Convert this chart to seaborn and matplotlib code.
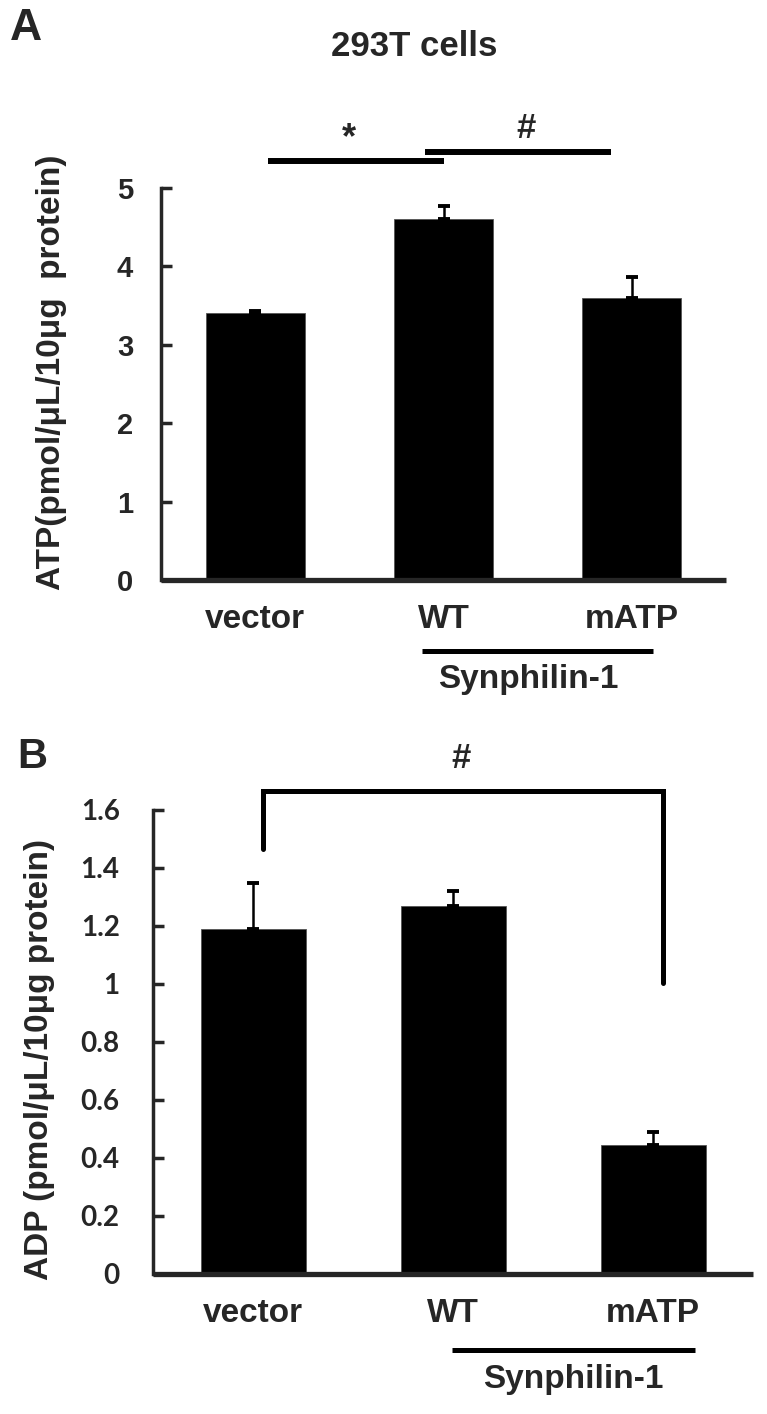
import numpy as np
import pandas as pd
import matplotlib
matplotlib.use("Agg")
import matplotlib.pyplot as plt
import seaborn as sns

# data
groups = ["vector", "WT", "mATP"]
atp_mean = [3.40, 4.61, 3.60]
atp_err = [0.03, 0.16, 0.26]
adp_mean = [1.19, 1.27, 0.445]
adp_err = [0.16, 0.05, 0.045]
atp_ticks = [0, 1, 2, 3, 4, 5]
adp_ticks = [0, 0.2, 0.4, 0.6, 0.8, 1.0, 1.2, 1.4, 1.6]
adp_ticklabels = ["0", "0.2", "0.4", "0.6", "0.8", "1", "1.2", "1.4", "1.6"]

sns.set_style("ticks")
plt.rcParams["font.family"] = ["Liberation Sans", "DejaVu Sans"]

W, H = 767, 1414
fig = plt.figure(figsize=(W / 100, H / 100), dpi=100)


def fig_box(left, top, right, bottom):
    return [left / W, 1 - bottom / H, (right - left) / W, (bottom - top) / H]


ax1 = fig.add_axes(fig_box(161, 188, 726, 580))
ax2 = fig.add_axes(fig_box(153, 810, 753, 1274))

df_a = pd.DataFrame({"group": groups, "value": atp_mean})
df_b = pd.DataFrame({"group": groups, "value": adp_mean})


def draw_panel(ax, df, errs, ticks, ticklabels, tick_font, tick_size, pad):
    sns.barplot(data=df, x="group", y="value", color="black", width=0.525,
                errorbar=None, ax=ax, edgecolor="#555555", linewidth=0.6)
    xs = np.arange(len(df))
    ax.errorbar(xs, df["value"], yerr=[np.zeros(len(errs)), errs], fmt="none",
                ecolor="black", elinewidth=1.8, capsize=4.5, capthick=2.8)
    ax.set_xlim(-0.5, 2.5)
    ax.set_ylim(ticks[0], ticks[-1])
    ax.set_yticks(ticks)
    ax.set_yticklabels(ticklabels, fontsize=tick_size, fontweight="bold", family=tick_font)
    ax.set_xticks(xs)
    ax.set_xticklabels(df["group"], fontsize=24, fontweight="bold")
    ax.tick_params(axis="x", length=0, pad=17)
    ax.tick_params(axis="y", direction="in", length=8, width=2.5, pad=pad)
    ax.set_xlabel("")
    ax.set_ylabel("")
    sns.despine(ax=ax)
    ax.spines["left"].set_linewidth(2.5)
    ax.spines["bottom"].set_linewidth(3.8)
    ax.spines["bottom"].set_capstyle("butt")


draw_panel(ax1, df_a, atp_err, atp_ticks, [str(t) for t in atp_ticks],
           ["Liberation Sans", "DejaVu Sans"], 21, 20)
draw_panel(ax2, df_b, adp_err, adp_ticks, adp_ticklabels,
           ["Lato", "DejaVu Sans"], 20, 24)

lw_sig = 4.3
# panel A significance bars
ax1.plot([0.07, 1.0], [5.34, 5.34], color="black", lw=lw_sig, clip_on=False, solid_capstyle="butt")
ax1.plot([0.9, 1.89], [5.46, 5.46], color="black", lw=lw_sig, clip_on=False, solid_capstyle="butt")
ax1.text(0.5, 5.40, "*", ha="center", va="bottom", fontsize=26, fontweight="bold")
ax1.text(1.44, 5.55, "#", ha="center", va="bottom", fontsize=25, fontweight="bold")
ax1.plot([0.886, 2.11], [-0.906, -0.906], color="black", lw=3.6, clip_on=False, solid_capstyle="butt")
ax1.text(1.45, -1.275, "Synphilin-1", ha="center", va="center", fontsize=24, fontweight="bold")

# panel B bracket
ax2.plot([0.05, 0.05, 2.05, 2.05], [1.467, 1.667, 1.667, 1.003], color="black", lw=3.6,
         clip_on=False, solid_joinstyle="miter")
ax2.text(1.04, 1.777, "#", ha="center", va="center", fontsize=25, fontweight="bold")
ax2.plot([0.995, 2.21], [-0.261, -0.261], color="black", lw=3.6, clip_on=False, solid_capstyle="butt")
ax2.text(1.6, -0.364, "Synphilin-1", ha="center", va="center", fontsize=24, fontweight="bold")

# titles, y labels and panel letters
fig.text(414 / W, 1 - 46 / H, "293T cells", ha="center", va="center", fontsize=25, fontweight="bold")
fig.text(52 / W, 1 - 372 / H, "ATP(pmol/μL/10μg  protein)", rotation=90, ha="center", va="center",
         fontsize=24, fontweight="bold")
fig.text(40 / W, 1 - 1060 / H, "ADP (pmol/μL/10μg protein)", rotation=90, ha="center", va="center",
         fontsize=24, fontweight="bold")
fig.text(26 / W, 1 - 28 / H, "A", ha="center", va="center", fontsize=32, fontweight="bold")
fig.text(32 / W, 1 - 757 / H, "B", ha="center", va="center", fontsize=30, fontweight="bold")

plt.savefig("out.png", dpi=100)
